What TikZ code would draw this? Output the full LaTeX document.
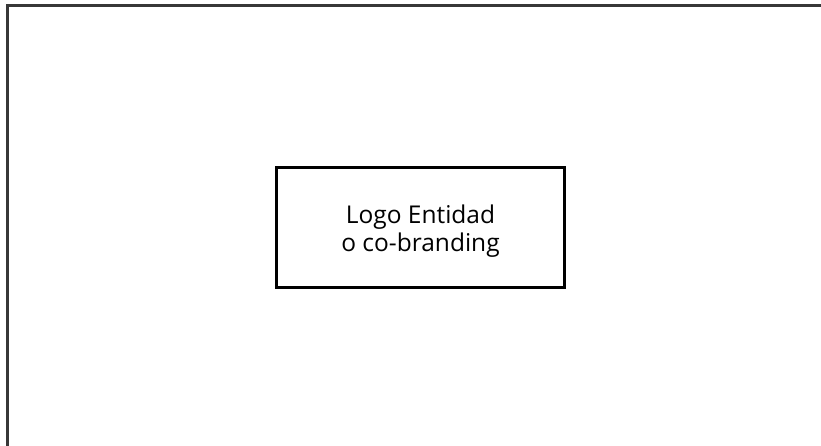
\documentclass[tikz,border=0pt]{standalone}
\usepackage{fontspec}
\setmainfont{Open Sans}
\begin{document}
\begin{tikzpicture}[x=1pt,y=-1pt,
  frame/.style={draw=black!78,line width=3pt},
  logobox/.style={draw=black,line width=2.2pt,minimum width=288pt,minimum height=120pt,inner sep=0pt},
  logotext/.style={align=center,inner sep=0pt,font=\fontsize{24.5}{28}\selectfont}]
\useasboundingbox (0,0) rectangle (821,446);
\fill[white] (0,0) rectangle (821,446);
\coordinate (tl) at (7.5,5.5);
\coordinate (tr) at (821,5.5);
\coordinate (bl) at (7.5,446);
\draw[frame] (bl) -- (tl) -- (tr);
\node[logobox] (logo) at (420.5,227.5) {};
\node[logotext] (logolabel) at ([yshift=-3.5pt]logo.center) {Logo Entidad\\o co-branding};
\end{tikzpicture}
\end{document}
